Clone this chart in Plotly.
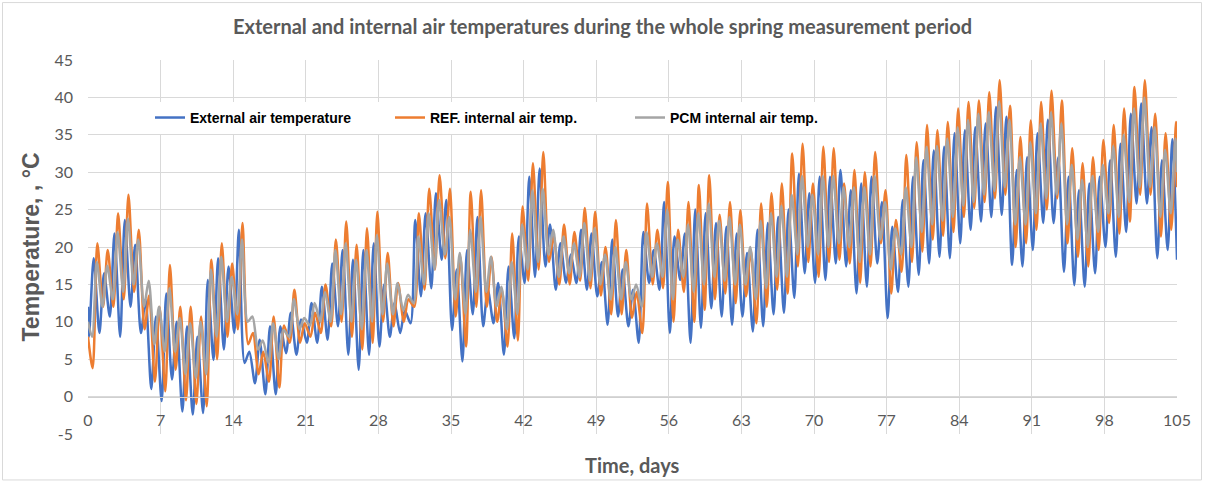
import plotly.graph_objects as go

# ---------------- data ----------------
day_index = list(range(105))

ext_min = [8, 8.5, 10.7, 8, 12, 8.5, 1, -0.6, 2.3, -2,
           -2.4, -2.2, 4.9, 6.3, 8.5, 4.5, 1.8, 0.3, 0.3, 5.8,
           5.6, 7.2, 7.2, 7.6, 9.4, 5.6, 3.6, 5.6, 6.7, 8,
           8.5, 9.8, 13.4, 14.5, 18.3, 8.9, 4.7, 11, 9.4, 9.8,
           5.6, 7.8, 15.2, 16, 17.4, 14.3, 15.2, 15.2, 14.3, 13.4,
           9.6, 10.7, 9.4, 7.2, 15.2, 14.3, 8.5, 15.6, 7.2, 9.2,
           11.8, 10.7, 9.6, 10.7, 8.7, 9.4, 11, 11.2, 13.2, 16.5,
           15.2, 15.6, 17.8, 17.4, 13.8, 14.7, 17.8, 10.5, 14, 14.7,
           16.3, 17.8, 18.7, 18.5, 20.5, 22.3, 23.4, 24, 24.3, 17.6,
           17.4, 19.6, 23.2, 23.2, 16.7, 14.9, 14.7, 16.5, 20, 18.7,
           22, 25.8, 25.8, 18.5, 19.6]
ext_max = [18.5, 16.5, 21.8, 23.6, 20.3, 13, 10.7, 13.8, 10, 9.4,
           8, 15.6, 18.5, 17.4, 22.3, 6, 7.6, 9.4, 9.4, 11.2,
           10.3, 12.5, 14.7, 17.8, 19.6, 18.3, 19.6, 20.5, 15, 12.5,
           11.5, 23.6, 24.5, 27.2, 26.3, 17, 19.6, 24, 14.3, 15.2,
           17.4, 21.4, 29.4, 30.5, 23, 20.5, 19, 22.3, 21.8, 18,
           21, 17, 14.3, 22, 19.6, 26, 21.4, 21.8, 25, 24.5,
           23.2, 22.7, 21.8, 19.2, 22.3, 23.2, 24, 25, 29.8, 27.2,
           29.4, 29.4, 30.3, 27.6, 28.5, 29.4, 26, 22.7, 26.3, 29.4,
           31.6, 32.9, 33.4, 35.2, 35.6, 36, 36.5, 38.7, 37.4, 30.3,
           32, 35.2, 37, 32, 29.4, 27.6, 28.5, 29.4, 31.6, 33.8,
           37.8, 39.2, 36, 31.6, 34.4]

ref_min = [3.8, 12, 12, 13, 14, 9, 2, 0.7, 3.6, -0.5,
           -1, -1.3, 5, 8, 9, 7, 3, 2, 1.2, 7.2,
           7.2, 8, 8.5, 9.4, 10, 8, 6.3, 7.2, 10, 9.4,
           10, 12, 14.3, 17, 18.5, 10.7, 6.7, 12, 12, 10,
           6.7, 7.5, 15.5, 17, 18, 15, 15, 15.5, 14.5, 13.5,
           11, 11, 10.5, 8.5, 15, 14.5, 10, 14, 10, 11.6,
           13, 13.8, 12.5, 13.4, 9.8, 12, 14.3, 13.8, 17.4, 18,
           16, 18, 18.3, 17.8, 15.2, 17.4, 20.5, 13.8, 16.7, 18,
           19.4, 21, 21.5, 22, 24, 25.2, 26, 26.5, 27, 20,
           20.5, 22.3, 25, 26.5, 20.5, 18.7, 17.4, 19.6, 23.2, 21.8,
           23.4, 27, 27, 21.4, 22.3]
ref_max = [20.5, 19.6, 24.5, 27, 22.3, 13.5, 12, 17.6, 12, 12,
           10.7, 18.3, 20.5, 17.8, 23.2, 8.5, 6, 10.7, 9.5, 14.3,
           9.8, 11.2, 15, 21, 23.4, 20.3, 22.5, 24.7, 19.2, 15.2,
           13, 24.5, 27.8, 29.6, 27.8, 18.7, 27.4, 27.6, 18.7, 14.3,
           21.8, 25.4, 31.2, 32.7, 21.4, 23, 22, 25.2, 24.7, 20,
           23.6, 19.6, 14, 25.8, 22.3, 28.7, 22.3, 26, 28.3, 29.6,
           24.3, 26, 24.9, 19.6, 25.8, 27.2, 28.5, 32.5, 33.8, 28.5,
           33.4, 33.2, 28.5, 30.3, 30, 32.7, 27.6, 23.6, 32.3, 34,
           36.3, 35.6, 36.7, 38.5, 39.4, 39.6, 40.7, 42.3, 38.9, 34.7,
           36.9, 39.4, 40.9, 39.6, 33.2, 31.2, 32, 34.3, 36.3, 38.5,
           41.4, 42.3, 37.8, 35.2, 36.7]

pcm_min = [8, 12, 13, 14, 15, 12, 7, 6, 6, 3,
           2.5, 3, 8, 10, 11, 10, 6.3, 4.5, 5, 8,
           9, 9.5, 10, 10, 11, 10, 9, 10, 11, 11,
           11.5, 12.5, 15, 17, 19, 13, 11, 14, 14, 12,
           9, 11, 17, 18, 19, 16, 16.5, 16, 15.5, 15,
           13, 13, 13, 12, 16, 16, 13, 16, 14, 15,
           16, 15.5, 15, 15, 13, 14.5, 16, 16, 19, 20,
           19, 20, 20.5, 20, 18, 19, 21, 17, 19, 20,
           22, 23, 23.5, 24, 25.5, 26, 27, 27.5, 28, 23,
           23, 24.5, 26.5, 27, 23, 21, 20, 22, 24.5, 24,
           26, 28, 28, 24, 24.5]
pcm_max = [18, 17.5, 22, 23.8, 21, 15.5, 12, 14.5, 10.5, 9.8,
           10, 17, 18.7, 16, 21, 10.7, 7.5, 9.8, 8.9, 13,
           10.5, 12.5, 14, 19.6, 20.5, 18.3, 19.6, 21.6, 17.8, 15.2,
           13.6, 21.4, 24.5, 26.3, 24, 19.2, 22.3, 24, 18.7, 14.7,
           18, 23, 27.6, 27.8, 22.3, 21.4, 20.5, 23.2, 22.5, 19,
           20, 18, 15, 22, 20.5, 25, 21, 23, 24.5, 25.8,
           23.5, 24, 23, 20, 23.5, 24.5, 25.5, 27, 29.5, 27,
           29.5, 29.5, 28, 28, 28, 29.5, 26, 22.5, 28, 32,
           33.4, 33.5, 34.5, 36, 37, 37.8, 38, 39.5, 37, 32,
           34, 36.5, 38, 36.5, 31, 29, 29.5, 31, 33.5, 35,
           38.5, 40, 36, 33, 34.5]

# first / last readings of each series
ext_edges = [12, 18.3]
ref_edges = [8, 28]
pcm_edges = [10, 30]

# time of day (fraction) of daily minimum / maximum for each series
ext_phase = [0.1, 0.55]
ref_phase = [0.45, 0.9]
pcm_phase = [0.4, 0.85]

x_ticks = [0, 7, 14, 21, 28, 35, 42, 49, 56, 63, 70, 77, 84, 91, 98, 105]
y_ticks = [-5, 0, 5, 10, 15, 20, 25, 30, 35, 40, 45]

series_names = ["External air temperature", "REF. internal air temp.", "PCM internal air temp."]
series_colors = ["#4472C4", "#ED7D31", "#A5A5A5"]


def build(mins, maxs, phase, edges):
    xs, ys = [0.0], [edges[0]]
    for d, lo, hi in zip(day_index, mins, maxs):
        xs += [d + phase[0], d + phase[1]]
        ys += [lo, hi]
    xs.append(105.0)
    ys.append(edges[1])
    return xs, ys


series = [
    build(ext_min, ext_max, ext_phase, ext_edges),
    build(ref_min, ref_max, ref_phase, ref_edges),
    build(pcm_min, pcm_max, pcm_phase, pcm_edges),
]

fig = go.Figure()
for (xs, ys), name, col in zip(series, series_names, series_colors):
    fig.add_trace(go.Scatter(
        x=xs, y=ys, mode="lines", name=name,
        line=dict(color=col, width=2.5, shape="spline", smoothing=0.8),
    ))

# plot area in pixels: left 88, right 1177, top 60, bottom 434.5
L, R, T, B = 88, 1177, 60, 434.5
W, H = 1205, 483
def px_x(p):
    return (p - L) / (R - L)
def px_y(p):
    return (B - p) / (B - T)

fig.update_layout(
    width=W, height=H,
    margin=dict(l=L, r=W - R, t=T, b=H - B),
    paper_bgcolor="white", plot_bgcolor="white",
    title=dict(
        text="External and internal air temperatures during the whole spring measurement period",
        x=0.5, xref="container", xanchor="center",
        y=1 - 27 / H, yref="container", yanchor="middle",
        font=dict(family="Lato", size=20, color="#595959", weight="bold"),
    ),
    showlegend=True,
    legend=dict(
        orientation="h", x=px_x(150), y=px_y(118), xanchor="left", yanchor="middle",
        bgcolor="white", borderwidth=0,
        font=dict(family="Liberation Sans", size=14, color="#000000", weight="bold"),
        entrywidth=195, traceorder="normal",
    ),
    xaxis=dict(
        range=[0, 105], tickmode="array", tickvals=x_ticks, ticktext=[str(v) for v in x_ticks],
        showgrid=True, gridcolor="#d9d9d9", gridwidth=1,
        zeroline=False, showline=True, linecolor="#d0d0d0", linewidth=1,
        anchor="free", position=0.1, ticks="", ticklabelstandoff=9,
        tickfont=dict(family="Lato", size=16, color="#595959"),
    ),
    yaxis=dict(
        range=[-5, 45], tickmode="array", tickvals=y_ticks, ticktext=[str(v) for v in y_ticks],
        showgrid=True, gridcolor="#d9d9d9", gridwidth=1,
        zeroline=False, showline=False, ticks="", ticklabelstandoff=14,
        tickfont=dict(family="Lato", size=16, color="#595959"),
        title=dict(text="Temperature, , °C", standoff=8,
                   font=dict(family="Liberation Sans", size=23, color="#595959", weight="bold")),
    ),
    annotations=[dict(
        text="Time, days", xref="paper", yref="paper", x=0.5, y=px_y(466),
        xanchor="center", yanchor="middle", showarrow=False,
        font=dict(family="Lato", size=20, color="#595959", weight="bold"),
    )],
    shapes=[dict(
        type="rect", xref="paper", yref="paper",
        x0=px_x(2.5), x1=px_x(1201.5), y0=px_y(480.5), y1=px_y(2.5),
        line=dict(color="#d9d9d9", width=1), fillcolor="rgba(0,0,0,0)", layer="below",
    )],
)

fig.write_html("out.html")
